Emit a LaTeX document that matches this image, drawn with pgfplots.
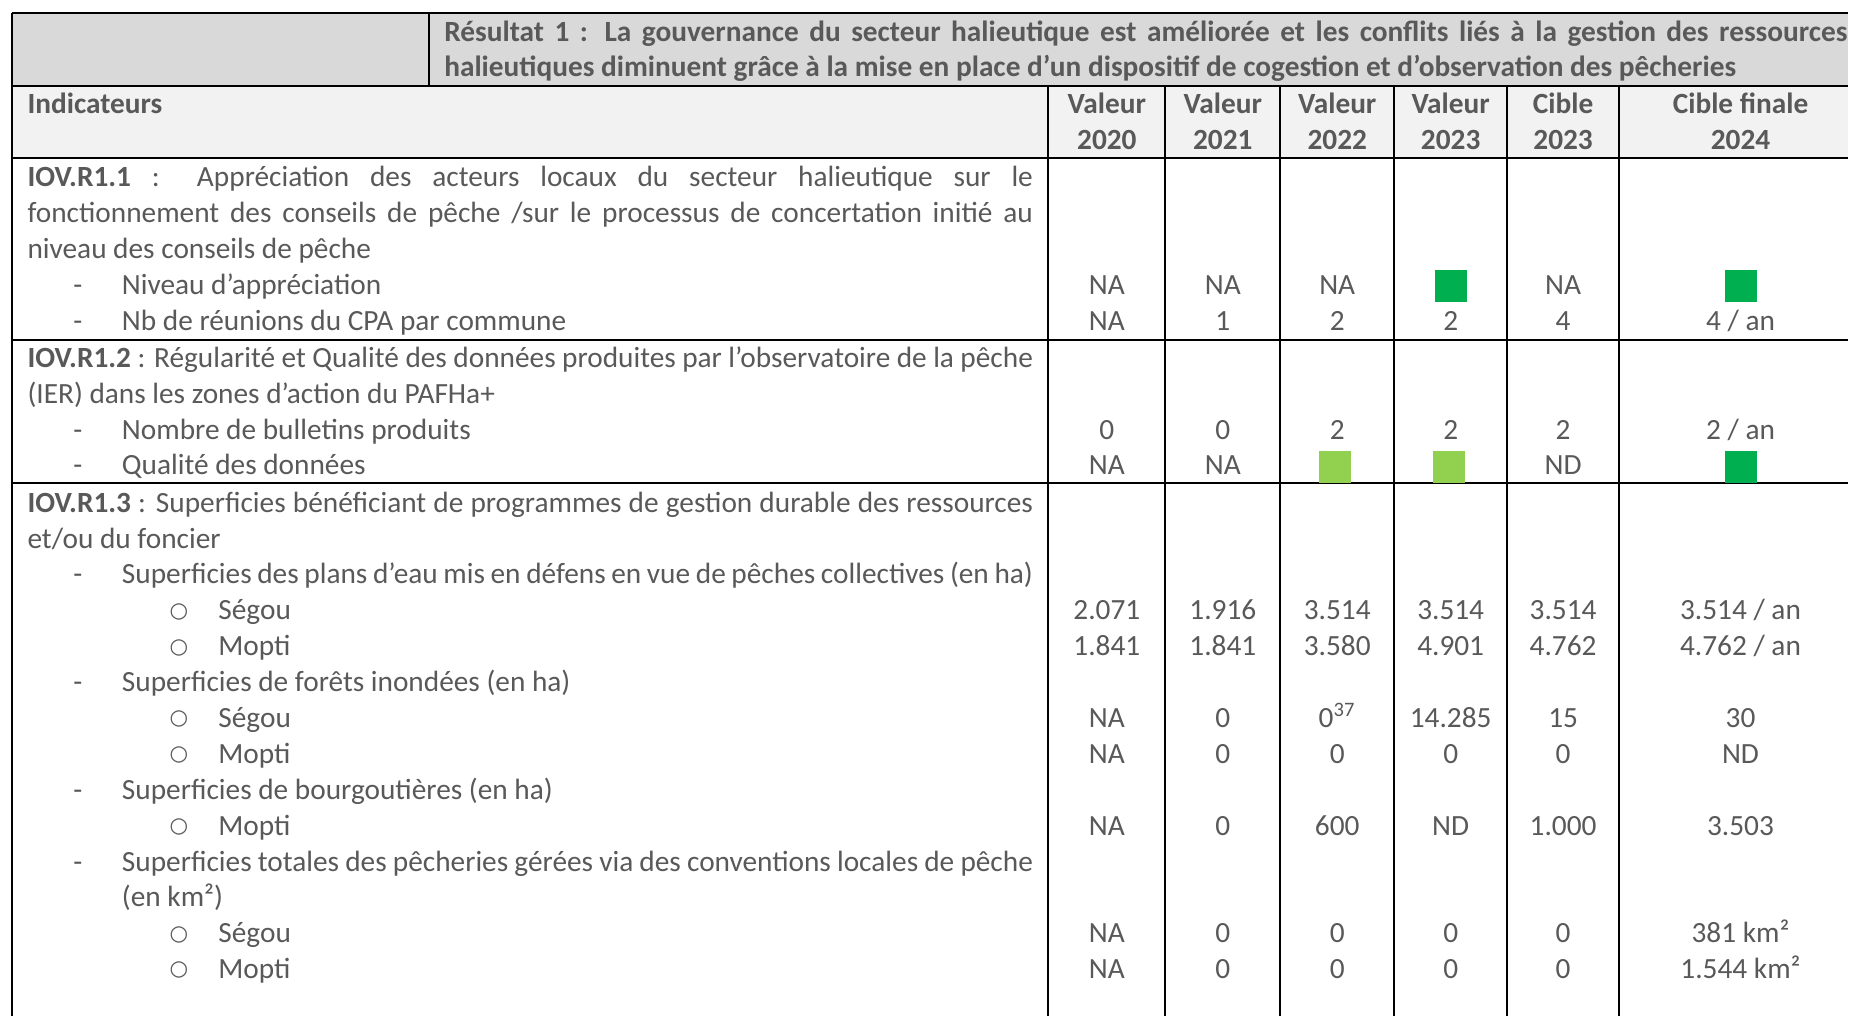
\documentclass[border=0pt]{standalone}
\usepackage{pgfplots}
\pgfplotsset{compat=1.18}
\usepackage{fontspec}
\setmainfont{Carlito}
\newfontfamily\symfont{DejaVu Sans}

\definecolor{txt}{HTML}{595959}
\definecolor{hdrA}{HTML}{D9D9D9}
\definecolor{hdrB}{HTML}{F2F2F2}
\definecolor{okgreen}{HTML}{00B050}
\definecolor{midgreen}{HTML}{92D050}

% one reference pixel
\newlength\px \setlength\px{0.375pt}

% left column helpers (x, baseline y in reference pixels)
\newcommand\cellL[3]{\node[anchor=base west] at (axis cs:#1,#2) {#3};}
\newcommand\cellJ[4]{\node[anchor=base west] at (axis cs:#1,#2) {\makebox[#3\px][s]{#4}};}
\newcommand\dashL[2]{\node[anchor=base] at (axis cs:78,#1) {-};\cellL{121.5}{#1}{#2}}
\newcommand\subL[2]{\node[anchor=base] at (axis cs:179,#1) {\raisebox{1pt}{\symfont\fontsize{8pt}{9pt}\selectfont ○}};\cellL{218}{#1}{#2}}
% six value columns
\newcommand\vals[7]{%
  \node[anchor=base] at (axis cs:1107.5,#1) {#2};
  \node[anchor=base] at (axis cs:1223.5,#1) {#3};
  \node[anchor=base] at (axis cs:1338,#1) {#4};
  \node[anchor=base] at (axis cs:1451.5,#1) {#5};
  \node[anchor=base] at (axis cs:1564,#1) {#6};
  \node[anchor=base] at (axis cs:1741.5,#1) {#7};}

\begin{document}
\begin{tikzpicture}[font=\fontsize{11pt}{13pt}\selectfont, every node/.style={inner sep=0pt, text=txt}]
\begin{axis}[
  width=693.375pt, height=381.375pt, scale only axis,
  xmin=0, xmax=1849, ymin=0, ymax=1017, y dir=reverse,
  hide axis, clip=false, unbounded coords=jump,
]
% header fills
\addplot[draw=none, fill=white] coordinates {(0,0) (1849,0) (1849,1017) (0,1017)};
\addplot[draw=none, fill=hdrA] coordinates {(12,13) (1849,13) (1849,86) (12,86)};
\addplot[draw=none, fill=hdrB] coordinates {(12,86) (1849,86) (1849,158) (12,158)};

% grid
\addplot[black, line width=0.8pt] coordinates {
  (12,13) (1849,13) (nan,nan)
  (12,86) (1849,86) (nan,nan)
  (12,158) (1849,158) (nan,nan)
  (12,340) (1849,340) (nan,nan)
  (12,483) (1849,483) (nan,nan)
  (12,13) (12,1017) (nan,nan)
  (429,13) (429,86) (nan,nan)
  (1049,86) (1049,1017) (nan,nan)
  (1166,86) (1166,1017) (nan,nan)
  (1281,86) (1281,1017) (nan,nan)
  (1395,86) (1395,1017) (nan,nan)
  (1508,86) (1508,1017) (nan,nan)
  (1620,86) (1620,1017)
};

% rating squares
\addplot[only marks, color=okgreen, mark=square*, mark size=5.8pt, mark options={draw=none, fill=okgreen}]
  coordinates {(1451.5,286) (1741.5,286) (1741.5,467)};
\addplot[only marks, color=midgreen, mark=square*, mark size=5.8pt, mark options={draw=none, fill=midgreen}]
  coordinates {(1336,467) (1450,467)};

% header text
\cellJ{444}{42}{1404}{\bfseries Résultat 1 : La gouvernance du secteur halieutique est améliorée et les conflits liés à la gestion des ressources}
\cellL{444}{77}{\bfseries halieutiques diminuent grâce à la mise en place d’un dispositif de cogestion et d’observation des pêcheries}
\cellL{27}{114}{\bfseries Indicateurs}
\vals{114}{\bfseries Valeur}{\bfseries Valeur}{\bfseries Valeur}{\bfseries Valeur}{\bfseries Cible}{\bfseries Cible finale}
\vals{150}{\bfseries 2020}{\bfseries 2021}{\bfseries 2022}{\bfseries 2023}{\bfseries 2023}{\bfseries 2024}

% IOV.R1.1
\cellJ{27}{187}{1006}{\textbf{IOV.R1.1} : Appréciation des acteurs locaux du secteur halieutique sur le}
\cellJ{27}{223}{1006}{fonctionnement des conseils de pêche /sur le processus de concertation initié au}
\cellL{27}{259}{niveau des conseils de pêche}
\dashL{295}{Niveau d’appréciation}
\dashL{331}{Nb de réunions du CPA par commune}
\vals{295}{NA}{NA}{NA}{}{NA}{}
\vals{331}{NA}{1}{2}{2}{4}{4 / an}

% IOV.R1.2
\cellJ{27}{367.5}{1006}{\textbf{IOV.R1.2} : Régularité et Qualité des données produites par l’observatoire de la pêche}
\cellL{27}{403.4}{(IER) dans les zones d’action du PAFHa+}
\dashL{439.3}{Nombre de bulletins produits}
\dashL{475.2}{Qualité des données}
\vals{439.3}{0}{0}{2}{2}{2}{2 / an}
\vals{475.2}{NA}{NA}{}{}{ND}{}

% IOV.R1.3
\cellJ{27}{512.5}{1006}{\textbf{IOV.R1.3} : Superficies bénéficiant de programmes de gestion durable des ressources}
\cellL{27}{548.4}{et/ou du foncier}
\node[anchor=base] at (axis cs:78,584.3) {-};
\cellJ{121.5}{584.3}{911.5}{Superficies des plans d’eau mis en défens en vue de pêches collectives (en ha)}
\subL{620.2}{Ségou}
\subL{656.1}{Mopti}
\dashL{692}{Superficies de forêts inondées (en ha)}
\subL{727.9}{Ségou}
\subL{763.8}{Mopti}
\dashL{799.7}{Superficies de bourgoutières (en ha)}
\subL{835.6}{Mopti}
\node[anchor=base] at (axis cs:78,871.5) {-};
\cellJ{121.5}{871.5}{911.5}{Superficies totales des pêcheries gérées via des conventions locales de pêche}
\cellL{121.5}{907.4}{(en km²)}
\subL{943.3}{Ségou}
\subL{979.2}{Mopti}
\vals{620.2}{2.071}{1.916}{3.514}{3.514}{3.514}{3.514 / an}
\vals{656.1}{1.841}{1.841}{3.580}{4.901}{4.762}{4.762 / an}
\vals{727.9}{NA}{0}{0\textsuperscript{37}}{14.285}{15}{30}
\vals{763.8}{NA}{0}{0}{0}{0}{ND}
\vals{835.6}{NA}{0}{600}{ND}{1.000}{3.503}
\vals{943.3}{NA}{0}{0}{0}{0}{381 km²}
\vals{979.2}{NA}{0}{0}{0}{0}{1.544 km²}
\end{axis}
\end{tikzpicture}
\end{document}
